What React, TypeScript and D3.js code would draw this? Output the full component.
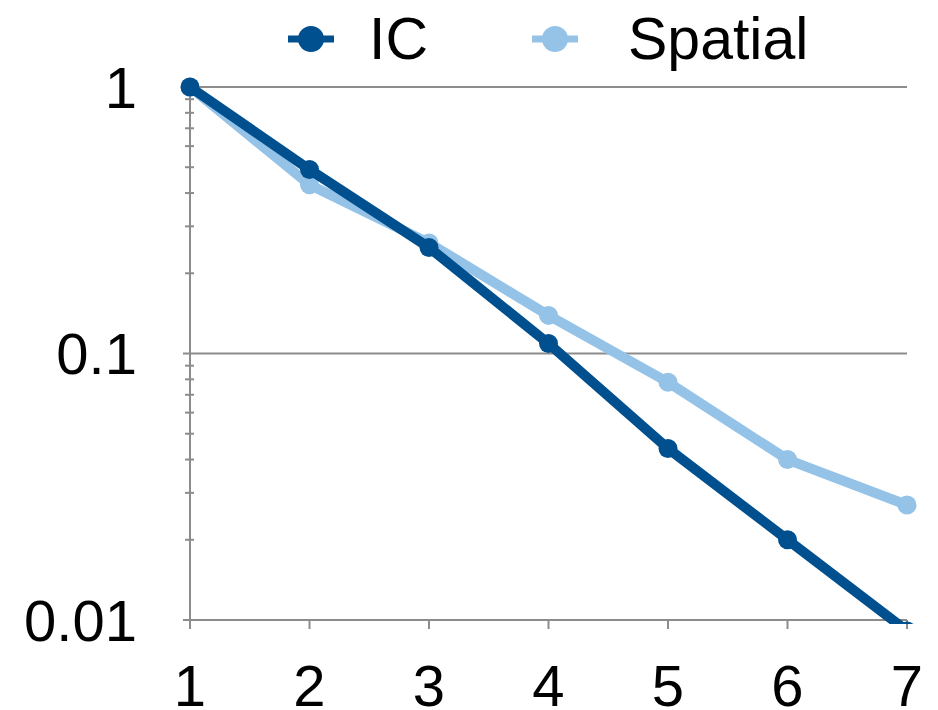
import React from 'react'
import * as d3 from 'd3'

const xValues = [1, 2, 3, 4, 5, 6, 7]
const icValues = [1, 0.49, 0.25, 0.109, 0.044, 0.02, 0.0091]
const spatialValues = [1, 0.43, 0.26, 0.139, 0.078, 0.04, 0.027]
const yTicks = [1, 0.1, 0.01]
const yTickLabels = ['1', '0.1', '0.01']
const seriesNames = ['IC', 'Spatial']
const seriesColors = ['#00508f', '#95c3e8']

const width = 938
const height = 710
const font = '"Liberation Sans", Arial, Helvetica, sans-serif'

export default function App() {
  const x = d3.scaleLinear().domain([1, 7]).range([190, 907])
  const y = d3.scaleLog().domain([0.01, 1]).range([620, 87])

  const line = d3
    .line<number>()
    .x((_, i) => x(xValues[i]))
    .y(d => y(d))

  // minor ticks 2..9 per decade
  const minor: number[] = []
  for (const base of [0.01, 0.1]) {
    for (let k = 2; k <= 9; k++) minor.push(base * k)
  }

  const gray = '#8c8c8c'
  const series = [icValues, spatialValues]

  return (
    <svg
      width={width}
      height={height}
      style={{ position: 'absolute', left: 0, top: 0, background: '#fff' }}
    >
      <defs>
        <clipPath id="plot-clip">
          <rect x={0} y={0} width={width} height={y(0.01) + 4} />
        </clipPath>
      </defs>

      {/* gridlines */}
      {yTicks.slice(0, 2).map(t => (
        <line key={t} x1={183} x2={x(7)} y1={y(t)} y2={y(t)} stroke={gray} strokeWidth={2} />
      ))}

      {/* y axis */}
      <line x1={x(1)} x2={x(1)} y1={y(1)} y2={y(0.01) + 9} stroke={gray} strokeWidth={2} />
      {minor.map(t => (
        <line key={t} x1={185} x2={194} y1={y(t)} y2={y(t)} stroke={gray} strokeWidth={2} />
      ))}

      {/* x axis */}
      <line x1={183} x2={x(7)} y1={y(0.01)} y2={y(0.01)} stroke={gray} strokeWidth={2} />
      {xValues.map(v => (
        <line key={v} x1={x(v)} x2={x(v)} y1={y(0.01)} y2={y(0.01) + 9} stroke={gray} strokeWidth={2} />
      ))}

      {/* tick labels */}
      {yTicks.map((t, i) => (
        <text
          key={t}
          x={137}
          y={y(t)}
          dy="0.36em"
          textAnchor="end"
          fontFamily={font}
          fontSize={58}
          fill="#000"
        >
          {yTickLabels[i]}
        </text>
      ))}
      {xValues.map(v => (
        <text
          key={v}
          x={x(v)}
          y={706}
          textAnchor="middle"
          fontFamily={font}
          fontSize={58}
          fill="#000"
        >
          {v}
        </text>
      ))}

      {/* series: Spatial below, IC on top */}
      <g clipPath="url(#plot-clip)">
        {[1, 0].map(si => (
          <g key={si}>
            <path
              d={line(series[si]) || ''}
              fill="none"
              stroke={seriesColors[si]}
              strokeWidth={10}
              strokeLinejoin="round"
            />
            {series[si].map((d, i) => (
              <circle key={i} cx={x(xValues[i])} cy={y(d)} r={9.5} fill={seriesColors[si]} />
            ))}
          </g>
        ))}
      </g>

      {/* legend */}
      {seriesNames.map((name, i) => {
        const cx = [311, 555][i]
        const cy = 39
        return (
          <g key={name}>
            <line x1={cx - 23} x2={cx + 23} y1={cy} y2={cy} stroke={seriesColors[i]} strokeWidth={7} />
            <circle cx={cx} cy={cy} r={13} fill={seriesColors[i]} />
            <text x={[369, 628][i]} y={59} fontFamily={font} fontSize={59} fill="#000">
              {name}
            </text>
          </g>
        )
      })}
    </svg>
  )
}
